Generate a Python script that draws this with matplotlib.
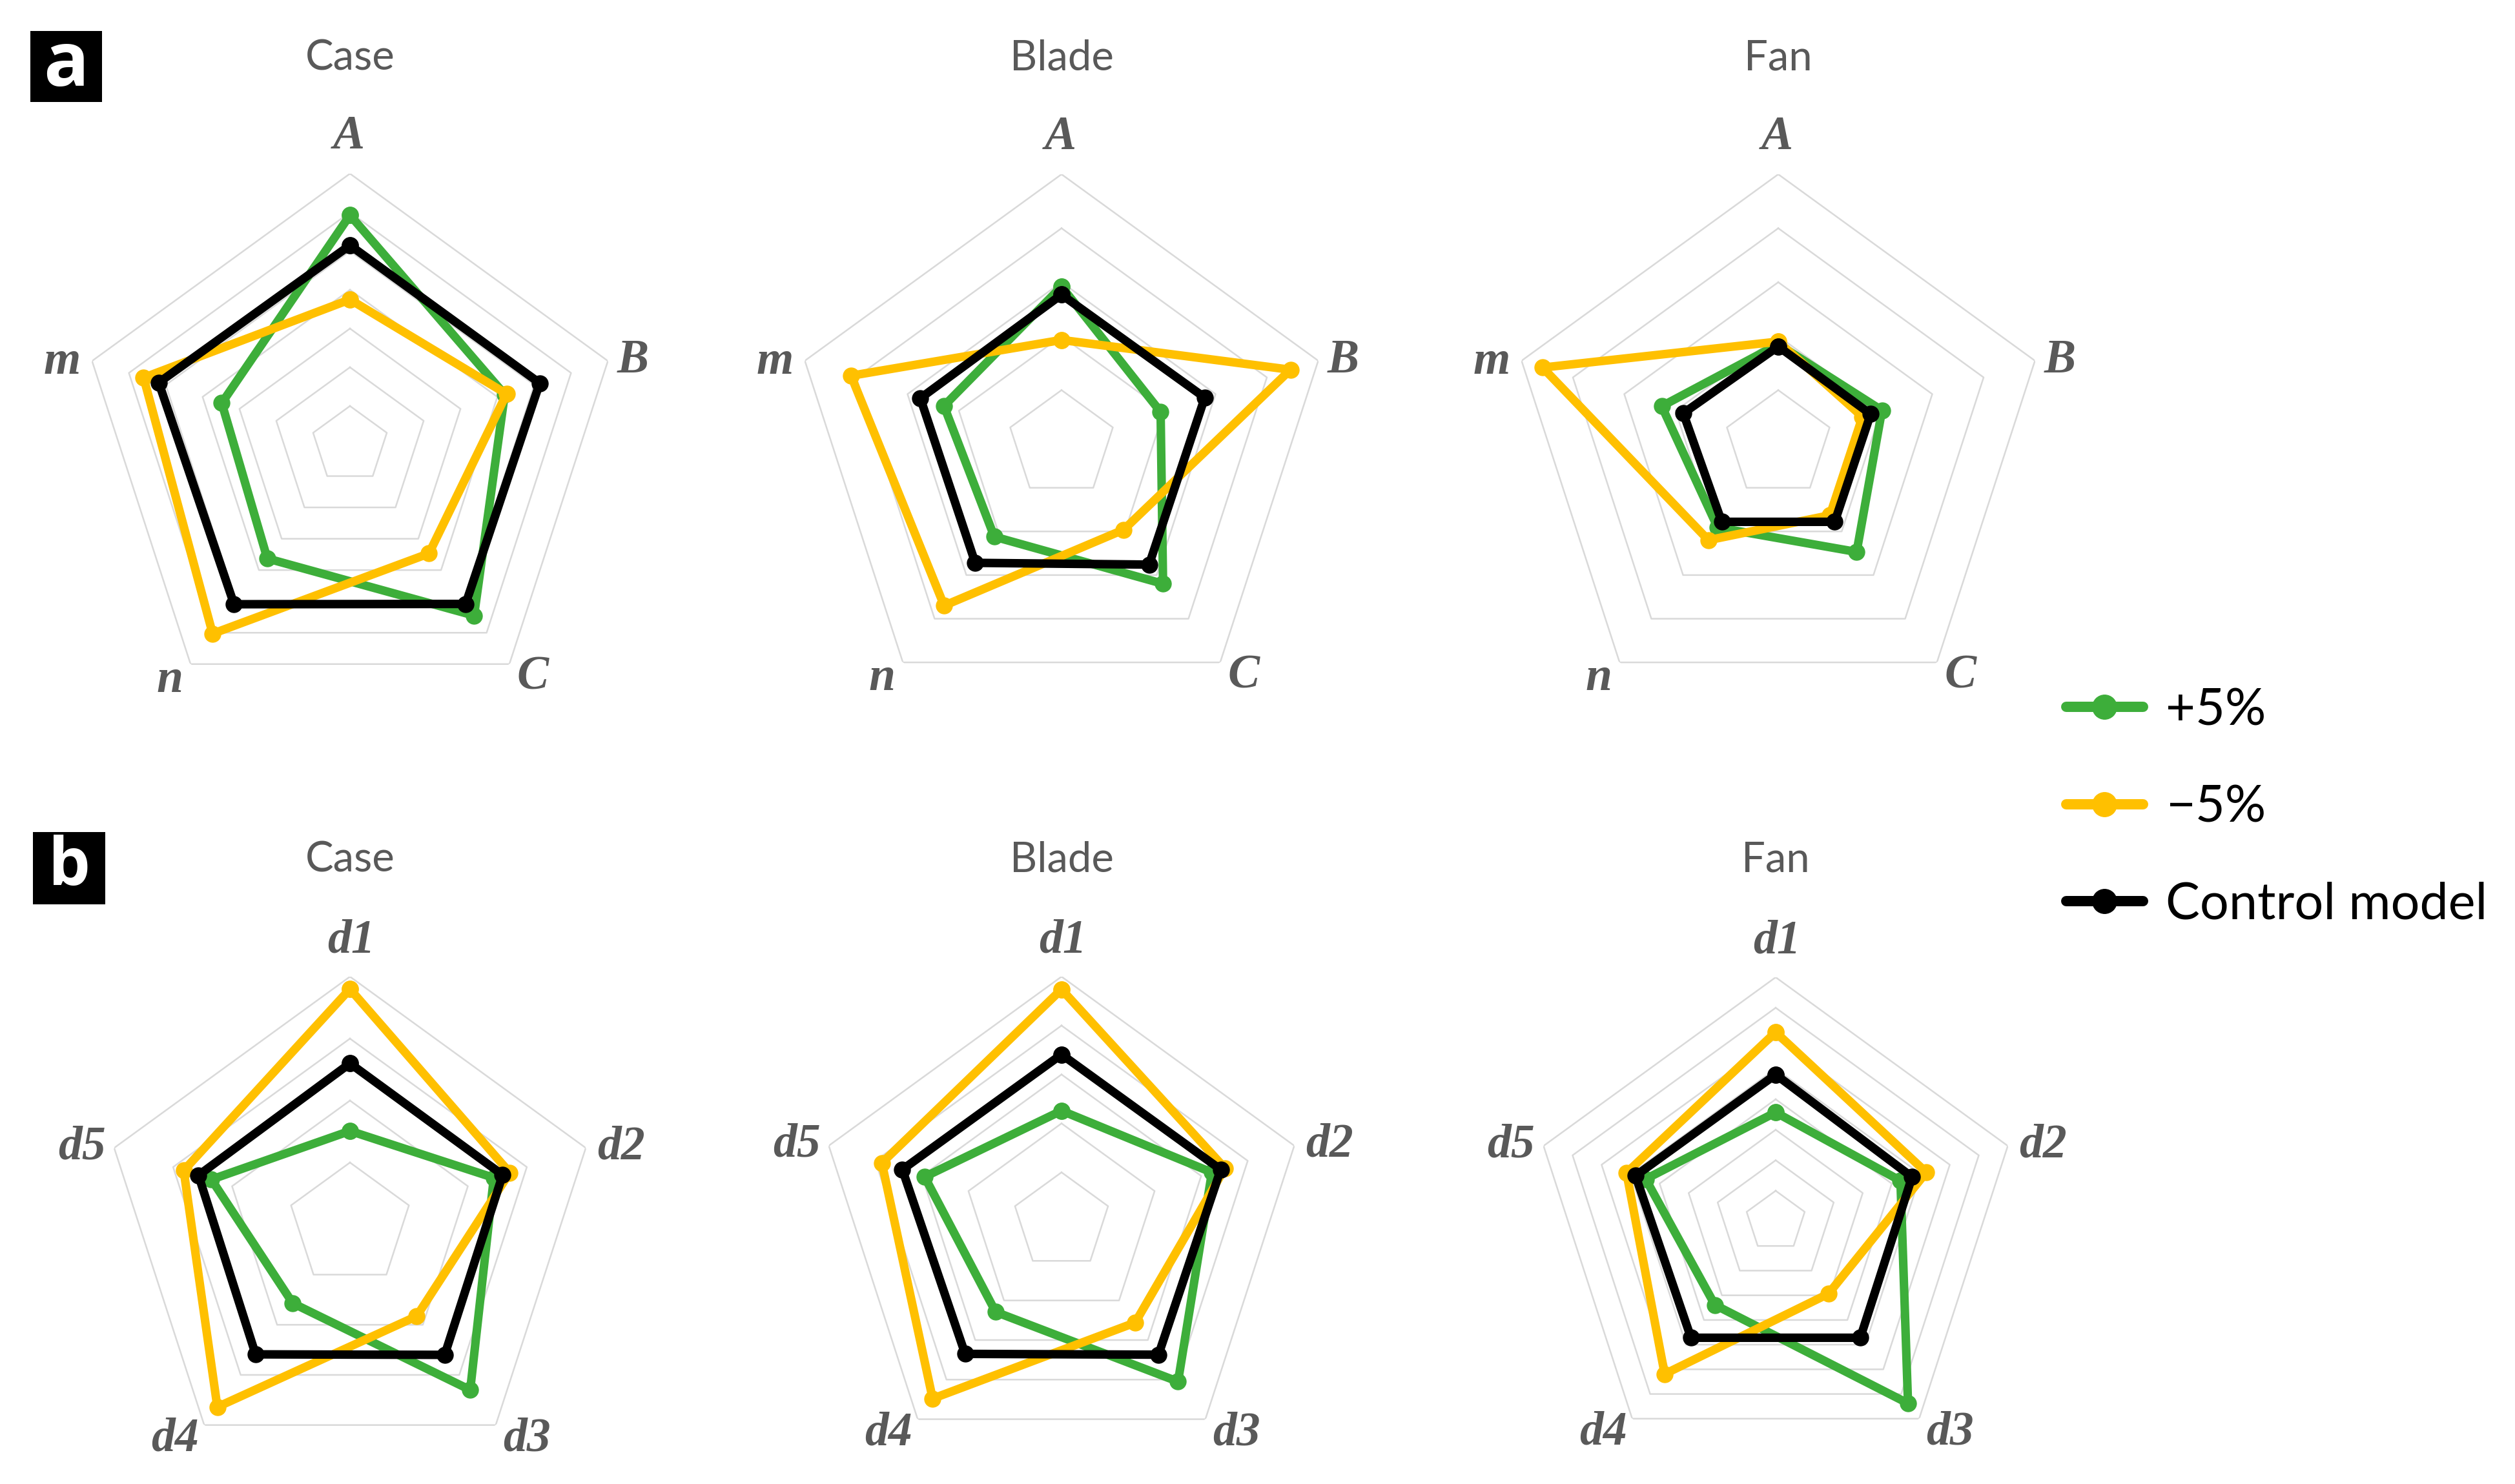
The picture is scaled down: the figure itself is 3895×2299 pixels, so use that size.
import numpy as np
import matplotlib
matplotlib.use("Agg")
import matplotlib.pyplot as plt
from matplotlib.lines import Line2D
from matplotlib.patches import Rectangle

W, H, DPI = 3895, 2299, 100

# ---------------- data (values in grid-ring units) ----------------
cats_a = ["A", "B", "C", "n", "m"]
cats_b = ["d1", "d2", "d3", "d4", "d5"]
panel_titles = ["Case", "Blade", "Fan"]
series_labels = ["+5%", "\u22125%", "Control model"]

# row a
case_a_plus = [5.93, 4.20, 5.45, 3.63, 3.48]
case_a_minus = [3.75, 4.25, 3.47, 6.03, 5.60]
case_a_ctrl = [5.15, 5.15, 5.08, 5.09, 5.19]

blade_a_plus = [2.92, 1.93, 3.20, 2.12, 2.29]
blade_a_minus = [1.93, 4.46, 1.96, 3.70, 4.10]
blade_a_ctrl = [2.77, 2.79, 2.76, 2.72, 2.75]

fan_a_plus = [1.85, 2.02, 2.47, 1.91, 2.27]
fan_a_minus = [1.90, 1.64, 1.63, 2.20, 4.59]
fan_a_ctrl = [1.81, 1.80, 1.78, 1.78, 1.85]

# row b
case_b_plus = [1.51, 2.44, 3.30, 1.57, 2.35]
case_b_minus = [3.80, 2.71, 1.83, 3.64, 2.82]
case_b_ctrl = [2.60, 2.59, 2.60, 2.59, 2.57]

blade_b_plus = [2.26, 3.23, 4.05, 2.29, 2.94]
blade_b_minus = [4.74, 3.51, 2.56, 4.48, 3.86]
blade_b_ctrl = [3.41, 3.42, 3.37, 3.35, 3.42]

fan_b_plus = [3.57, 4.30, 7.38, 3.39, 4.48]
fan_b_minus = [6.20, 5.19, 2.94, 6.19, 5.14]
fan_b_ctrl = [4.81, 4.70, 4.72, 4.72, 4.83]

rings_a = [7, 5, 5]
rings_b = [4, 5, 8]

# ---------------- style ----------------
GREEN = "#3DAE3A"
YELLOW = "#FFC000"
BLACK = "#000000"
GRID = "#D9D9D9"
TEXT = "#595959"
SERIES_COLORS = [GREEN, YELLOW, BLACK]
SANS = ["Lato", "DejaVu Sans"]
PX2PT = 72.0 / DPI

fig = plt.figure(figsize=(W / DPI, H / DPI), dpi=DPI)


def add_radar(cx, cy, R, cats, series, nrings, label_off, title, title_y):
    ax = fig.add_axes([(cx - R) / W, 1 - (cy + R) / H, 2 * R / W, 2 * R / H],
                      projection="polar")
    ax.set_theta_offset(np.pi / 2)
    ax.set_theta_direction(-1)
    ax.set_ylim(0, nrings)
    ax.set_xticks([])
    ax.set_yticks([])
    ax.grid(False)
    ax.spines["polar"].set_visible(False)
    ax.patch.set_visible(False)
    theta = np.linspace(0, 2 * np.pi, len(cats), endpoint=False)
    tc = np.append(theta, theta[0])
    for k in range(1, nrings + 1):
        ax.plot(tc, [k] * len(tc), color=GRID, lw=1.8, zorder=1)
    for vals, col in zip(series, SERIES_COLORS):
        v = np.append(vals, vals[0])
        ax.plot(tc, v, color=col, lw=9.5, marker="o", ms=18,
                solid_joinstyle="round", zorder=3, clip_on=False)
    # category labels, offset (in pixels) from the outer vertex of each axis
    for t, lab, (ox, oy) in zip(theta, cats, label_off):
        ax.annotate(lab, xy=(t, nrings), xytext=(ox * PX2PT, -oy * PX2PT),
                    textcoords="offset points", ha="center", va="center",
                    family="Liberation Serif", weight="bold", style="italic",
                    size=53, color=TEXT, annotation_clip=False)
    fig.text(cx / W, 1 - title_y / H, title, ha="center", va="center",
             family=SANS, size=47, color=TEXT)
    return ax


label_off_a = [(-2, -57), (39, 0), (36, 21), (-32, 25), (-46, 2)]
label_off_b = [(2, -55), (55, -1), (48, 22), (-45, 22), (-50, -1)]

geo_a = [(542, 689, 420), (1644, 688, 418), (2754, 688, 418)]
geo_b = [(542, 1897, 384), (1644, 1892, 379), (2750, 1892, 378)]

series_a = [[case_a_plus, case_a_minus, case_a_ctrl],
            [blade_a_plus, blade_a_minus, blade_a_ctrl],
            [fan_a_plus, fan_a_minus, fan_a_ctrl]]
series_b = [[case_b_plus, case_b_minus, case_b_ctrl],
            [blade_b_plus, blade_b_minus, blade_b_ctrl],
            [fan_b_plus, fan_b_minus, fan_b_ctrl]]

for (cx, cy, R), ser, nr, tt in zip(geo_a, series_a, rings_a, panel_titles):
    add_radar(cx, cy, R, cats_a, ser, nr, label_off_a, tt, 90)
for (cx, cy, R), ser, nr, tt in zip(geo_b, series_b, rings_b, panel_titles):
    add_radar(cx, cy, R, cats_b, ser, nr, label_off_b, tt, 1332)

# panel letter boxes
for (x0, y0, x1, y1, letter, fs) in [(47, 48, 158, 158, "a", 84),
                                     (51, 1289, 163, 1401, "b", 74)]:
    fig.add_artist(Rectangle((x0 / W, 1 - y1 / H), (x1 - x0) / W, (y1 - y0) / H,
                             transform=fig.transFigure, facecolor="black",
                             edgecolor="none"))
    fig.text((x0 + x1) / 2 / W, 1 - (y0 + y1) / 2 / H, letter, color="white",
             ha="center", va="center", family=["Open Sans", "DejaVu Sans"],
             weight="bold", size=fs)

# legend
handles = [Line2D([0], [0], color=c, lw=11.5, marker="o", ms=27,
                  solid_capstyle="round") for c in SERIES_COLORS]
fig.legend(handles, series_labels, loc="upper left",
           bbox_to_anchor=(3200 / W, 1 - 1065 / H), frameon=False,
           borderpad=0, borderaxespad=0, handlelength=1.5,
           handletextpad=0.45, labelspacing=0.99,
           prop={"family": SANS, "size": 57})

fig.savefig("out.png", dpi=DPI)
